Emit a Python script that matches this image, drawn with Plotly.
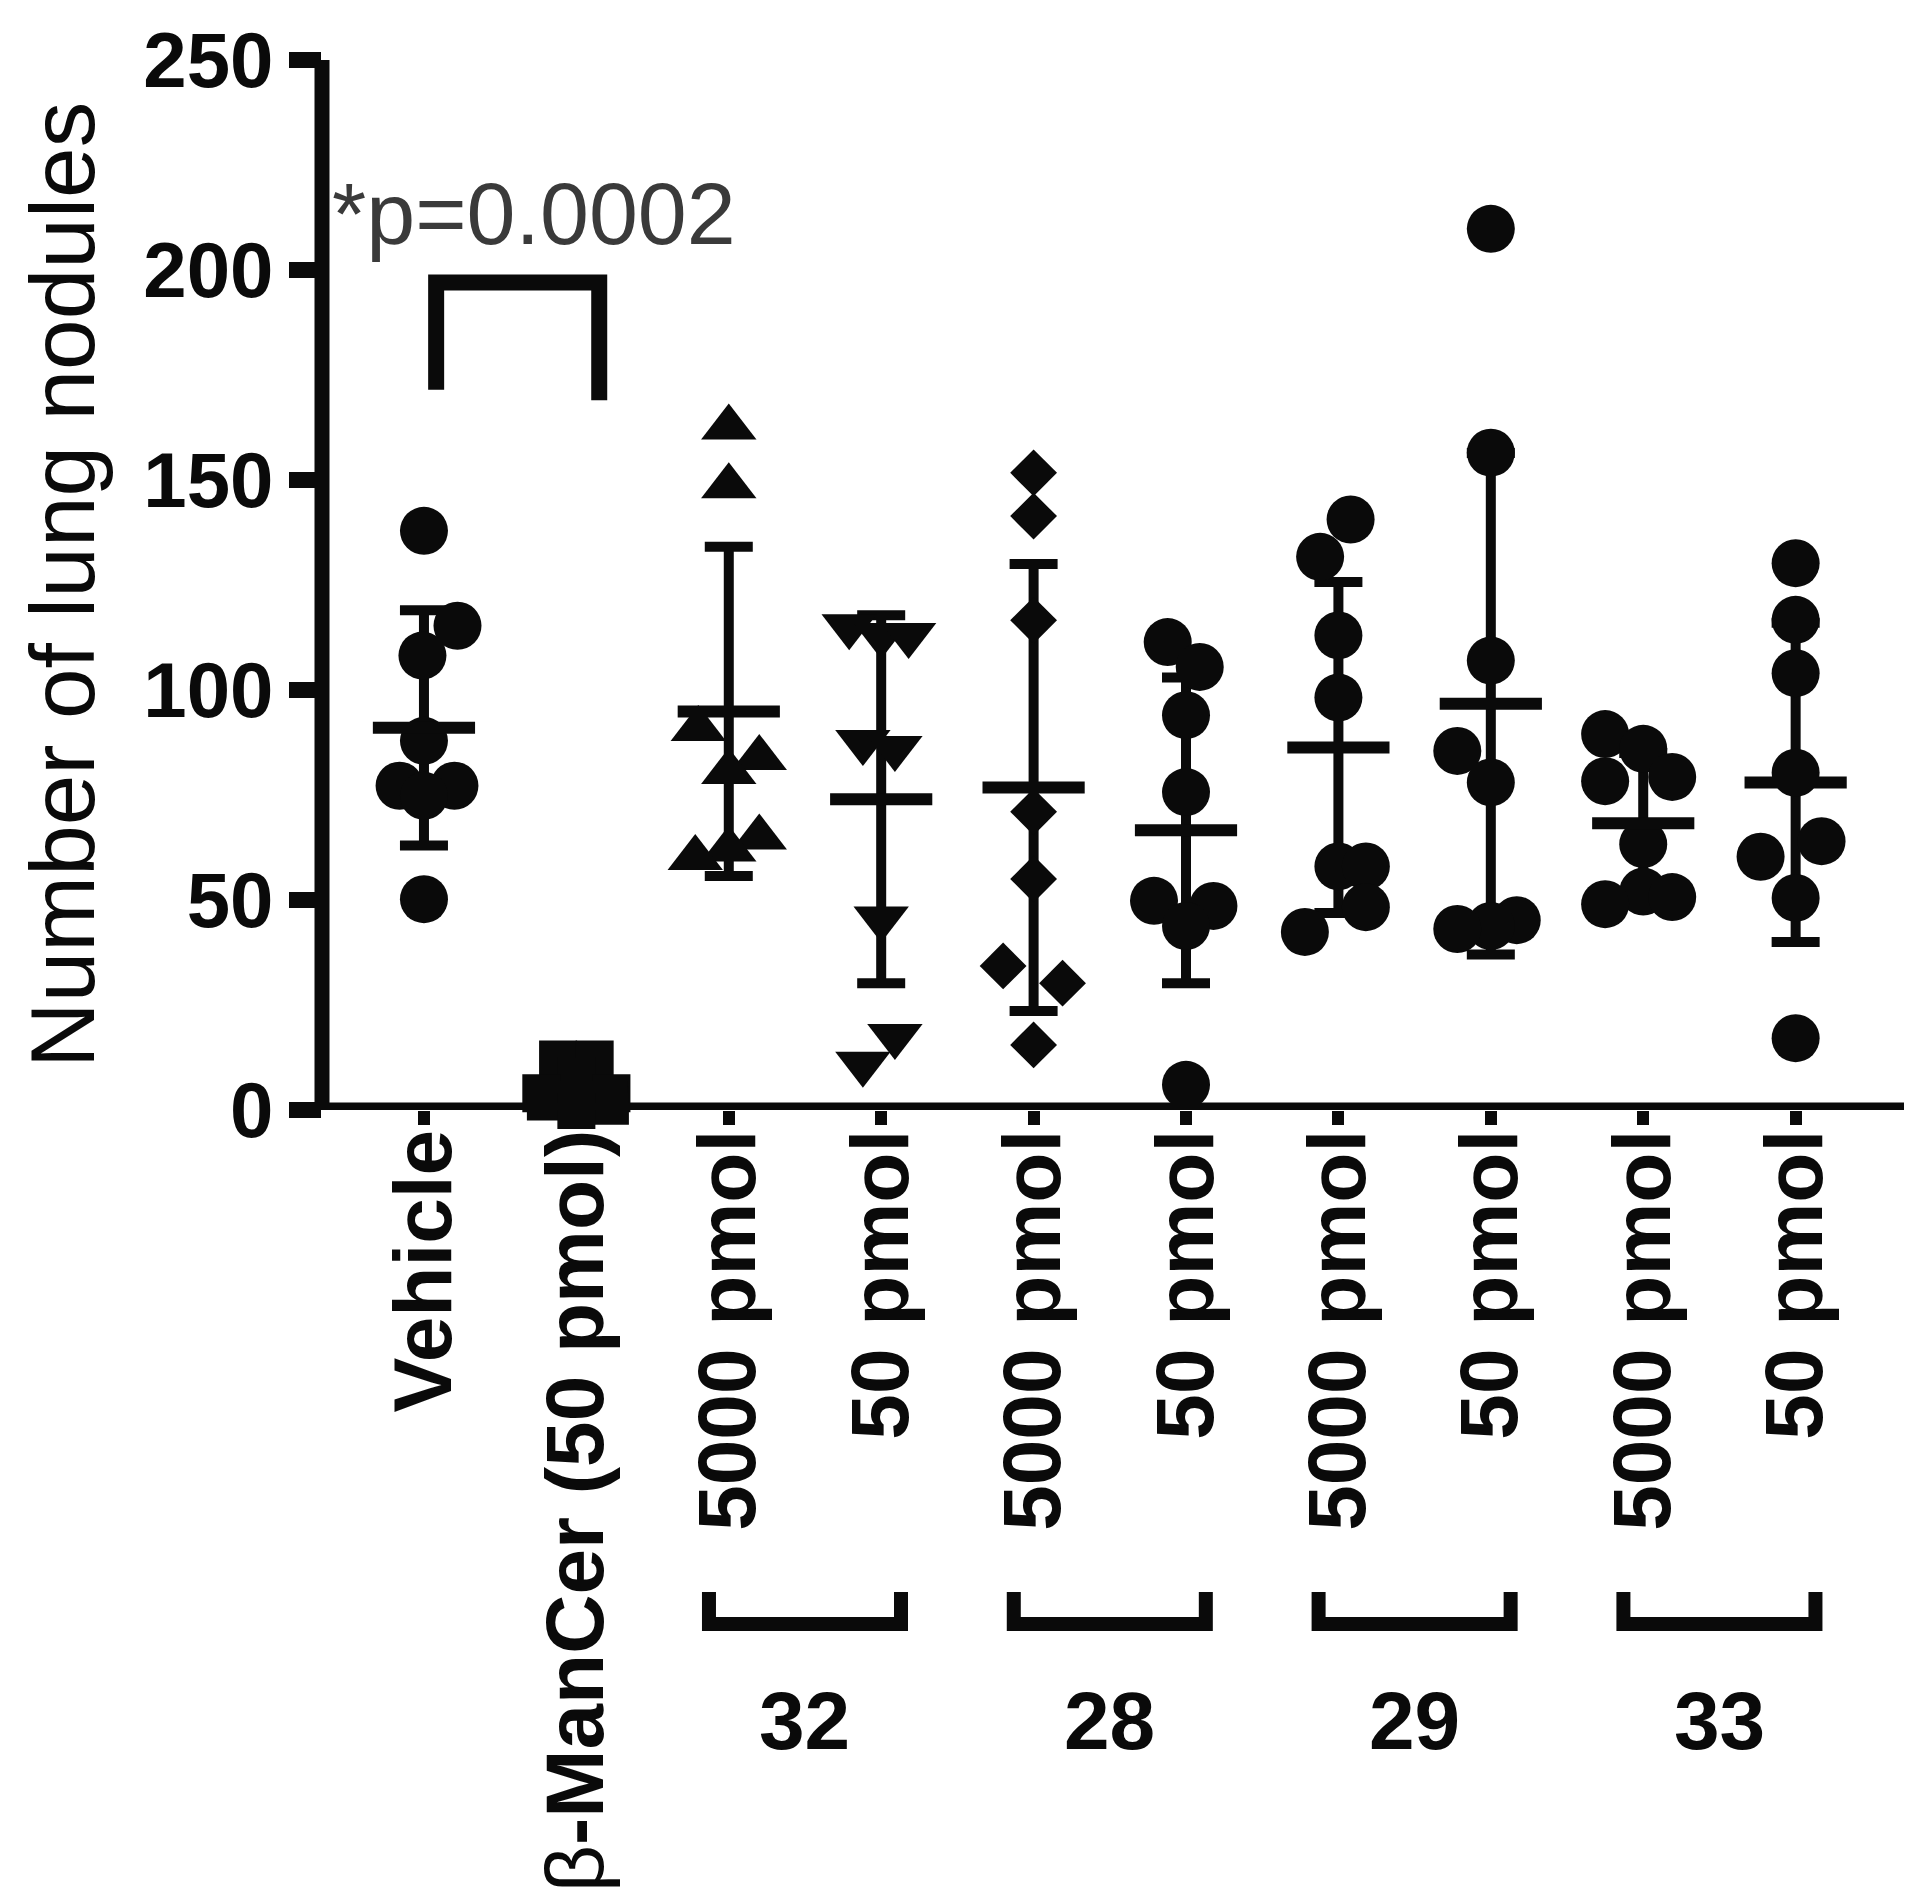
import plotly.graph_objects as go

# ---------------- data ----------------
tick_labels = ["Vehicle", "<span style='font-weight:normal'>β</span>-ManCer (50 pmol)",
               "5000 pmol", "50 pmol", "5000 pmol", "50 pmol",
               "5000 pmol", "50 pmol", "5000 pmol", "50 pmol"]
group_labels = ["32", "28", "29", "33"]
y_ticks = [0, 50, 100, 150, 200, 250]

vehicle = [137.9, 115.3, 108.2, 87.9, 77.2, 77.2, 74.8, 50.2]
mancer = [12, 12, 8, 4, 4, 2, 1, 0]
c32_5000 = [162.5, 148.5, 90.7, 83.8, 80.5, 64.9, 62.0, 60.0]
c32_50 = [115.2, 113.1, 113.1, 87.6, 86.2, 45.6, 17.6, 11.0]
c28_5000 = [151.7, 141.4, 116.6, 71.0, 55.0, 34.3, 30.2, 15.5]
c28_50 = [111.4, 105.5, 94.0, 75.7, 49.8, 48.6, 43.8, 6.0]
c29_5000 = [140.6, 131.7, 113.0, 98.2, 58.0, 58.0, 48.3, 42.4]
c29_50 = [209.8, 156.5, 107.0, 85.5, 78.0, 45.2, 43.8, 43.1]
c33_5000 = [89.5, 86.0, 79.3, 78.3, 63.3, 52.0, 50.7, 49.0]
c33_50 = [130.2, 116.7, 104.0, 80.3, 64.0, 60.3, 50.5, 17.1]

means = [91.0, 5.5, 94.9, 74.0, 76.8, 66.6, 86.3, 96.7, 68.3, 78.0]
sds = [28.0, 4.5, 39.2, 43.8, 53.2, 36.4, 39.4, 59.7, 16.7, 38.0]

p_text = "*p=0.0002"

# horizontal scatter of points within each column (category units)
jitter = [
    [0, 0.22, -0.01, 0, -0.16, 0.20, 0, 0],
    [-0.12, 0.12, 0, -0.23, 0.23, -0.2, 0.22, 0],
    [0, 0, -0.2, 0.2, 0, 0.2, 0, -0.22],
    [-0.21, 0, 0.18, -0.12, 0.09, 0, 0.09, -0.12],
    [0, 0, 0, 0, 0, -0.2, 0.19, 0],
    [-0.12, 0.09, 0, 0, -0.21, 0.18, 0, 0],
    [0.08, -0.12, 0, 0, 0, 0.18, 0.18, -0.22],
    [0, 0, 0, -0.22, 0, 0.17, 0, -0.22],
    [-0.25, 0, 0.19, -0.25, 0, 0, 0.19, -0.25],
    [0, 0, 0, 0, 0.17, -0.23, 0, 0],
]

groups = [vehicle, mancer, c32_5000, c32_50, c28_5000, c28_50,
          c29_5000, c29_50, c33_5000, c33_50]
symbols = ["circle", "square", "triangle-up", "triangle-down", "diamond",
           "circle", "circle", "circle", "circle", "circle"]
sizes = {"circle": 48, "square": 38, "triangle-up": 48, "triangle-down": 48, "diamond": 36}

BLACK = "#0a0a0a"
FONT = "Liberation Sans, Arial, sans-serif"

fig = go.Figure()

# error bars (mean ± SD)
fig.add_trace(go.Scatter(
    x=list(range(len(means))), y=means, mode="markers",
    marker=dict(size=1, color="rgba(0,0,0,0)"),
    error_y=dict(type="data", array=sds, visible=True, color=BLACK,
                 thickness=10, width=24),
    cliponaxis=False, showlegend=False, hoverinfo="skip"))

# points
for i, (vals, sym) in enumerate(zip(groups, symbols)):
    fig.add_trace(go.Scatter(
        x=[i + j for j in jitter[i]], y=vals, mode="markers",
        marker=dict(symbol=sym, size=sizes[sym], color=BLACK, line=dict(width=0)),
        cliponaxis=False, showlegend=False))

# mean lines
fig.add_trace(go.Scatter(
    x=list(range(len(means))), y=means, mode="markers",
    marker=dict(symbol="line-ew-open", size=73, color=BLACK,
                line=dict(width=12, color=BLACK)),
    cliponaxis=False, showlegend=False))

# ---------------- layout ----------------
W, H = 1920, 1895
L, R, T, B = 314, 24, 52, 793
plot_w = W - L - R
plot_h = H - T - B
x_range = [-0.669, 9.711]
y_range = [0, 250]
px_per_unit = plot_h / (y_range[1] - y_range[0])

shapes = []
axis_lw = 15
# y axis line
shapes.append(dict(type="line", xref="paper", yref="y", x0=0, x1=0,
                   y0=0, y1=y_range[1] + (axis_lw / 2) / px_per_unit,
                   line=dict(color=BLACK, width=axis_lw), layer="above"))
# x axis line
shapes.append(dict(type="line", xref="paper", yref="y",
                   x0=-(axis_lw / 2) / plot_w, x1=1, y0=0, y1=0,
                   line=dict(color=BLACK, width=axis_lw), layer="above"))

# significance bracket between Vehicle and β-ManCer
shapes.append(dict(type="path", xref="x", yref="y",
                   path="M 0.08,171.5 L 0.08,197 L 1.15,197 L 1.15,169",
                   line=dict(color=BLACK, width=16)))

# group brackets under the tick labels
def paper_y(px):
    return (H - B - px) / plot_h

bt = paper_y(1584)
bb = paper_y(1616)
for k in range(len(group_labels)):
    mid = 2.5 + 2 * k
    x0, x1 = mid - 0.63, mid + 0.63
    shapes.append(dict(type="path", xref="x", yref="paper",
                       path=f"M {x0},{bt} L {x0},{bb} L {x1},{bb} L {x1},{bt}",
                       line=dict(color=BLACK, width=14)))

annotations = []
for k, lab in enumerate(group_labels):
    annotations.append(dict(x=2.5 + 2 * k, y=paper_y(1712), xref="x", yref="paper",
                            text=lab, showarrow=False, xanchor="center", yanchor="middle",
                            font=dict(family=FONT, size=82, color=BLACK, weight="bold")))

annotations.append(dict(x=(54 - L) / plot_w, y=0.5, xref="paper", yref="paper",
                        text="Number of lung nodules", textangle=-90, showarrow=False,
                        xanchor="center", yanchor="middle", borderpad=0,
                        font=dict(family=FONT, size=91, color=BLACK)))

annotations.append(dict(x=0.72, y=213.5, xref="x", yref="y", text=p_text,
                        showarrow=False, xanchor="center", yanchor="middle",
                        font=dict(family=FONT, size=88, color="#3a3a3a")))

fig.update_layout(
    width=W, height=H,
    margin=dict(l=L, r=R, t=T, b=B, pad=0, autoexpand=False),
    paper_bgcolor="white", plot_bgcolor="white",
    shapes=shapes, annotations=annotations, showlegend=False,
    xaxis=dict(range=x_range, tickmode="array", tickvals=list(range(len(tick_labels))),
               ticktext=tick_labels, tickangle=-90, ticks="outside", ticklen=14,
               tickwidth=12, tickcolor=BLACK, showline=False, showgrid=False,
               zeroline=False, fixedrange=True, automargin=False,
               ticklabelstandoff=-28,
               tickfont=dict(family=FONT, size=82, color=BLACK, weight="bold")),
    yaxis=dict(range=y_range, tickmode="array", tickvals=y_ticks,
               ticktext=[str(v) for v in y_ticks], ticks="outside", ticklen=32,
               tickwidth=16, tickcolor=BLACK, showline=False, showgrid=False,
               zeroline=False, fixedrange=True, automargin=False,
               tickfont=dict(family=FONT, size=78, color=BLACK, weight="bold")),
)

fig.write_html("out.html")
